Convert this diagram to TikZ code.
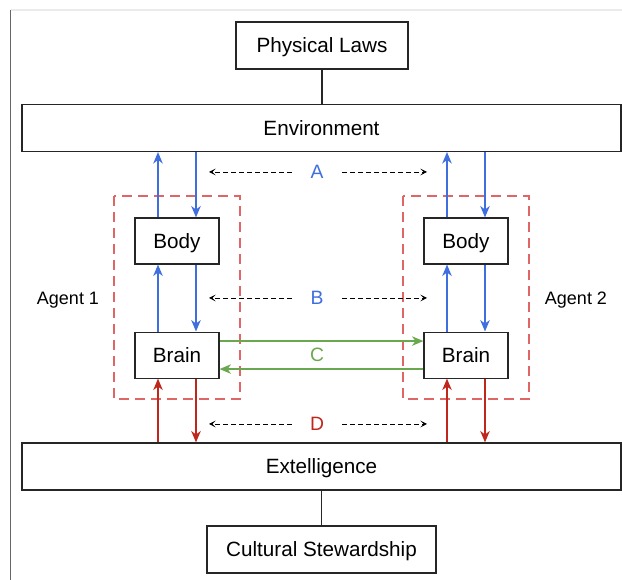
\documentclass[tikz,border=0pt]{standalone}
\usepackage{fontspec}
\setmainfont{Liberation Sans}
\usetikzlibrary{positioning, arrows.meta}
\definecolor{envblue}{HTML}{3F6FDF}
\definecolor{comgreen}{HTML}{6AA84F}
\definecolor{extred}{HTML}{C0271C}
\definecolor{agentred}{HTML}{E06666}

\begin{document}
\begin{tikzpicture}[x=0.75pt, y=-0.75pt, node distance=50.25pt,
    font=\fontsize{15.5}{18}\selectfont,
    every node/.append style={text height=11.1pt, text depth=0pt},
    >={Stealth[length=8.5pt, width=7pt, inset=2.5pt]},
    box/.style={draw=black!85, line width=0.8pt, minimum height=35.25pt},
    wide/.style={box, minimum width=449.25pt},
    part/.style={box, minimum width=63pt, minimum height=34.5pt},
    small/.style={font=\fontsize{13.5}{16}\selectfont, text height=9.7pt},
    lbl/.style={font=\fontsize{14.5}{17}\selectfont, text height=10.4pt, minimum width=37.5pt},
    flow/.style={line width=1.4pt},
    hint/.style={-{Stealth[length=5pt, width=5pt, inset=2.5pt]}, dash pattern=on 3.5pt off 2.5pt, line width=0.6pt},
    agent/.style={draw=agentred, line width=1.4pt, dash pattern=on 7.5pt off 4.5pt}]
  \useasboundingbox (0,0) rectangle (622,580);
  \draw[black!60, line width=1pt] (10.5,10) -- (10.5,580);
  \draw[black!8, line width=0.8pt] (10.5,10) -- (622,10);

  \node[box, minimum width=129pt] (pl) at (322,45.5) {Physical Laws};
  \node[wide] (env) at (321.5,128) {Environment};
  \node[part] (b1) at (177,241) {Body};
  \node[part] (r1) [below=of b1] {Brain};
  \node[part] (b2) at (466,241) {Body};
  \node[part] (r2) [below=of b2] {Brain};
  \node[wide] (ext) at (321.5,466.5) {Extelligence};
  \node[box, minimum width=171.75pt] (cs) at (321.5,549.5) {Cultural Stewardship};

  \draw[agent] (114,196) rectangle (240,399);
  \draw[agent] (403,196) rectangle (529,399);
  \node[small] (ag1) at (68,298) {Agent 1};
  \node[small] (ag2) at (576,298) {Agent 2};

  \draw[line width=0.8pt, black!85] (pl) -- (pl |- env.north);
  \draw[line width=0.8pt, black!85] (ext) -- (ext |- cs.north);

  \foreach \bd/\bn in {b1/r1, b2/r2} {
    \coordinate (\bd-u) at ([xshift=-14.25pt]\bd.center);
    \coordinate (\bd-d) at ([xshift=14.25pt]\bd.center);
    \draw[flow, envblue, ->] (\bd-u |- \bd.north) -- (\bd-u |- env.south);
    \draw[flow, envblue, <-] (\bd-d |- \bd.north) -- (\bd-d |- env.south);
    \draw[flow, envblue, ->] (\bd-u |- \bn.north) -- (\bd-u |- \bd.south);
    \draw[flow, envblue, <-] (\bd-d |- \bn.north) -- (\bd-d |- \bd.south);
    \draw[flow, extred, ->] (\bd-u |- ext.north) -- (\bd-u |- \bn.south);
    \draw[flow, extred, <-] (\bd-d |- ext.north) -- (\bd-d |- \bn.south);
  }
  \draw[flow, comgreen, ->] ([yshift=10.5pt]r1.east) -- ([yshift=10.5pt]r2.west);
  \draw[flow, comgreen, ->] ([yshift=-10.5pt]r2.west) -- ([yshift=-10.5pt]r1.east);

  \node[lbl, text=envblue] (A) at (317,172) {A};
  \node[lbl, text=envblue] (B) at (317,298) {B};
  \node[lbl, text=comgreen] (C) at (317,355) {C};
  \node[lbl, text=extred] (D) at (317,424) {D};
  \foreach \n/\y in {A/172, B/298, D/424} {
    \coordinate (\n-l) at (209,\y);
    \coordinate (\n-r) at (427,\y);
    \draw[hint] (\n) -- (\n-l);
    \draw[hint] (\n) -- (\n-r);
  }
\end{tikzpicture}
\end{document}
